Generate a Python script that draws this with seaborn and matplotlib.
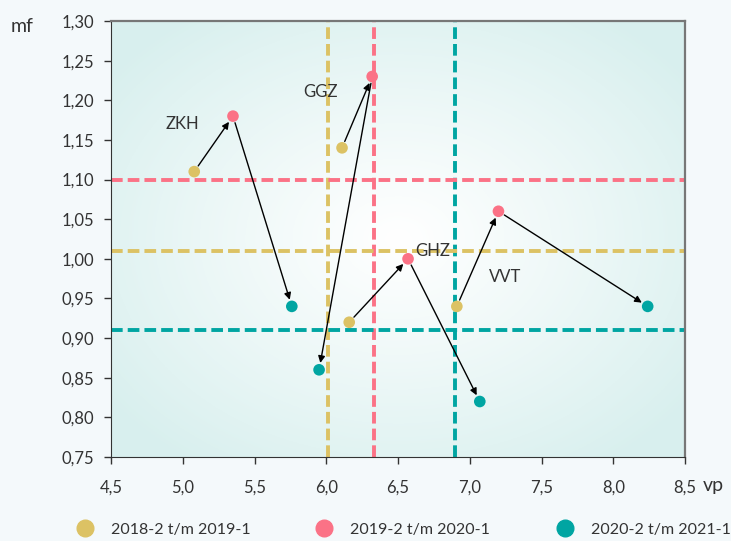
import numpy as np
import pandas as pd
import seaborn as sns
import matplotlib.pyplot as plt
from matplotlib.lines import Line2D

# data
orgs = ["ZKH", "GGZ", "GHZ", "VVT"]
periods = ["2018-2 t/m 2019-1", "2019-2 t/m 2020-1", "2020-2 t/m 2021-1"]
vp_1819 = [5.08, 6.11, 6.16, 6.91]
mf_1819 = [1.11, 1.14, 0.92, 0.94]
vp_1920 = [5.35, 6.32, 6.57, 7.20]
mf_1920 = [1.18, 1.23, 1.00, 1.06]
vp_2021 = [5.76, 5.95, 7.07, 8.24]
mf_2021 = [0.94, 0.86, 0.82, 0.94]
avg_vp = [6.01, 6.33, 6.90]
avg_mf = [1.01, 1.10, 0.91]
label_pos = {"ZKH": (5.0, 1.17), "GGZ": (5.96, 1.21), "GHZ": (6.74, 1.01), "VVT": (7.25, 0.977)}

colors = ["#dcc264", "#fb7286", "#00a5a2"]

rows = []
for p, vps, mfs in zip(periods, [vp_1819, vp_1920, vp_2021], [mf_1819, mf_1920, mf_2021]):
    for o, v, m in zip(orgs, vps, mfs):
        rows.append({"org": o, "period": p, "vp": v, "mf": m})
df = pd.DataFrame(rows)

sns.set_style("ticks")
plt.rcParams["font.family"] = ["Lato", "DejaVu Sans"]

fig = plt.figure(figsize=(7.31, 5.41), dpi=100, facecolor="#f4f9fb")
ax = fig.add_axes([111 / 731, 1 - 457 / 541, 574 / 731, 436 / 541])

# radial gradient background
gx, gy = np.meshgrid(np.linspace(-1, 1, 300), np.linspace(-1, 1, 300))
r = np.clip(np.sqrt(gx ** 2 + gy ** 2) / 1.25, 0, 1)
c0 = np.array([1.0, 1.0, 1.0])
c1 = np.array([0.85, 0.94, 0.935])
img = c0 + (c1 - c0) * r[..., None] ** 1.1
ax.imshow(img, extent=[4.5, 8.5, 0.75, 1.30], aspect="auto", zorder=0)

dash = (0, (3, 1.3))
for v, c in zip(avg_vp, colors):
    ax.axvline(v, color=c, lw=2.8, ls=dash, zorder=1)
for m, c in zip(avg_mf, colors):
    ax.axhline(m, color=c, lw=2.8, ls=dash, zorder=1)

# arrows between the periods
for i in range(len(orgs)):
    pts = [(vp_1819[i], mf_1819[i]), (vp_1920[i], mf_1920[i]), (vp_2021[i], mf_2021[i])]
    for a, b in zip(pts[:-1], pts[1:]):
        ax.annotate("", xy=b, xytext=a,
                    arrowprops=dict(arrowstyle="-|>", color="black", lw=1.0,
                                    mutation_scale=10, shrinkA=5, shrinkB=5),
                    zorder=3)

sns.scatterplot(data=df, x="vp", y="mf", hue="period", palette=colors, s=70,
                edgecolor="none", legend=False, ax=ax, zorder=4)

for o, (x, y) in label_pos.items():
    ax.text(x, y, o, fontsize=12, color="#333333", ha="center", va="center", zorder=5)

xt = np.arange(4.5, 8.51, 0.5)
yt = np.arange(0.75, 1.301, 0.05)
ax.set_xlim(4.5, 8.5)
ax.set_ylim(0.75, 1.30)
ax.set_xticks(xt)
ax.set_yticks(yt)
ax.set_xticklabels([f"{t:.1f}".replace(".", ",") for t in xt])
ax.set_yticklabels([f"{t:.2f}".replace(".", ",") for t in yt])
ax.tick_params(axis="both", labelsize=12, colors="#333333", length=5, width=1)
ax.tick_params(axis="x", pad=11)
ax.tick_params(axis="y", pad=7)
ax.set_xlabel("")
ax.set_ylabel("")
for s in ["left", "bottom"]:
    ax.spines[s].set_color("#333333")
for s in ["top", "right"]:
    ax.spines[s].set_color("#777777")
    ax.spines[s].set_linewidth(1.6)

fig.text(22 / 731, 1 - 27 / 541, "mf", fontsize=14, color="#333333", ha="center", va="center")
fig.text(713 / 731, 1 - 485 / 541, "vp", fontsize=14, color="#333333", ha="center", va="center")

# legend items placed individually
for x0, c, p in zip([77, 316, 557], colors, periods):
    h = Line2D([], [], marker="o", ls="", color=c, markersize=12)
    fig.legend([h], [p], loc="center left", bbox_to_anchor=(x0 / 731, 1 - 530 / 541),
               frameon=False, fontsize=11.5, handletextpad=1.1, borderpad=0,
               borderaxespad=0, handlelength=1.0, labelcolor="#333333")

fig.savefig("out.png", dpi=100, facecolor=fig.get_facecolor())
